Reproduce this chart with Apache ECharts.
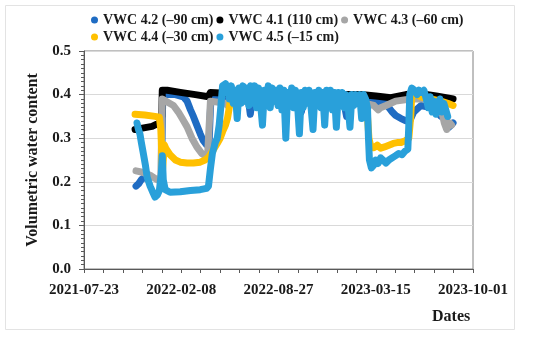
<!DOCTYPE html>
<html>
<head>
<meta charset="utf-8">
<script src="https://cdn.jsdelivr.net/npm/echarts@6/dist/echarts.min.js"></script>
<style>
html,body{margin:0;padding:0;background:#fff;}
#chart{width:550px;height:338px;}
</style>
</head>
<body>
<div id="chart"></div>
<script>
// ---------- data ----------
const xTickLabels = ['2021-07-23', '2022-02-08', '2022-08-27', '2023-03-15', '2023-10-01'];
const yTickLabels = ['0.0', '0.1', '0.2', '0.3', '0.4', '0.5'];
const seriesNames = ['VWC 4.2 (\u201390 cm)', 'VWC 4.1 (110 cm)', 'VWC 4.3 (\u201360 cm)', 'VWC 4.4 (\u201330 cm)', 'VWC 4.5 (\u201315 cm)'];
const seriesColors = ['#1F6CC3', '#000000', '#A6A6A6', '#FFC000', '#29A0DA'];

const vwc42 = [
  ['2021-11-07',0.19],['2021-11-12',0.195],['2021-11-18',0.205],['2021-11-24',0.21],['2021-11-25',null],
  ['2021-12-30',0.26],['2021-12-31',0.33],['2022-01-01',0.40],['2022-01-10',0.40],['2022-01-27',0.40],
  ['2022-02-12',0.395],['2022-02-20',0.385],['2022-02-27',0.365],['2022-03-05',0.35],['2022-03-12',0.33],
  ['2022-03-19',0.31],['2022-03-25',0.295],['2022-04-01',0.285],['2022-04-06',0.28],['2022-04-08',0.34],
  ['2022-04-10',0.39],['2022-05-10',0.395],['2022-06-10',0.39],['2022-06-26',0.39],['2022-06-30',0.355],
  ['2022-07-04',0.39],['2022-09-01',0.39],['2022-10-09',0.39],['2022-10-13',0.36],['2022-10-17',0.39],
  ['2022-12-20',0.39],['2023-01-08',0.385],['2023-01-14',0.35],['2023-01-20',0.385],['2023-03-15',0.385],
  ['2023-04-05',0.38],['2023-04-11',0.37],['2023-04-18',0.36],['2023-04-25',0.352],['2023-05-06',0.345],
  ['2023-05-16',0.34],['2023-05-24',0.34],['2023-06-01',0.36],['2023-06-16',0.375],['2023-07-06',0.37],
  ['2023-07-20',0.36],['2023-07-27',0.35],['2023-08-06',0.345],['2023-08-12',0.325],['2023-08-17',0.33],
  ['2023-08-21',0.335]
];
const vwc41 = [
  ['2021-11-05',0.32],['2021-11-20',0.323],['2021-12-10',0.327],['2021-12-25',0.335],['2021-12-30',0.35],
  ['2021-12-31',0.41],['2022-01-10',0.41],['2022-02-06',0.405],['2022-03-09',0.40],['2022-04-05',0.395],
  ['2022-04-09',0.405],['2022-06-30',0.40],['2022-09-21',0.40],['2022-12-12',0.40],['2023-02-12',0.40],
  ['2023-03-15',0.397],['2023-04-15',0.393],['2023-05-16',0.40],['2023-06-16',0.402],['2023-07-17',0.397],
  ['2023-08-21',0.39]
];
const vwc43 = [
  ['2021-11-07',0.225],['2021-11-20',0.222],['2021-12-06',0.215],['2021-12-20',0.205],['2021-12-28',0.21],
  ['2021-12-31',0.39],['2022-01-02',0.388],['2022-01-12',0.382],['2022-01-23',0.375],['2022-02-02',0.36],
  ['2022-02-10',0.345],['2022-02-20',0.326],['2022-03-02',0.30],['2022-03-12',0.28],['2022-03-22',0.265],
  ['2022-04-03',0.257],['2022-04-07',0.26],['2022-04-09',0.385],['2022-05-10',0.38],['2022-05-14',0.375],
  ['2022-06-10',0.385],['2022-09-01',0.385],['2022-12-01',0.385],['2023-01-10',0.39],['2023-02-12',0.385],
  ['2023-02-22',0.38],['2023-03-11',0.375],['2023-03-20',0.365],['2023-03-25',0.37],['2023-04-05',0.375],
  ['2023-04-25',0.385],['2023-05-26',0.39],['2023-06-26',0.39],['2023-07-17',0.385],['2023-07-27',0.37],
  ['2023-08-03',0.335],['2023-08-08',0.32],['2023-08-14',0.335],['2023-08-18',0.33]
];
const vwc44 = [
  ['2021-11-05',0.355],['2021-11-25',0.353],['2021-12-16',0.35],['2021-12-25',0.348],['2021-12-28',0.32],
  ['2021-12-30',0.26],['2021-12-31',0.22],['2022-01-02',0.25],['2022-01-04',0.285],['2022-01-08',0.275],
  ['2022-01-16',0.262],['2022-01-27',0.25],['2022-02-06',0.245],['2022-02-20',0.243],['2022-03-05',0.243],
  ['2022-03-19',0.245],['2022-03-29',0.25],['2022-04-05',0.256],['2022-04-13',0.27],['2022-04-23',0.288],
  ['2022-04-29',0.30],['2022-05-04',0.315],['2022-05-10',0.33],['2022-05-14',0.345],['2022-05-20',0.385],
  ['2022-05-25',0.40],['2022-06-15',0.395],['2022-08-15',0.395],['2022-11-01',0.39],['2023-01-20',0.39],
  ['2023-02-18',0.385],['2023-02-22',0.38],['2023-02-26',0.35],['2023-03-01',0.30],['2023-03-05',0.28],
  ['2023-03-11',0.278],['2023-03-18',0.284],['2023-03-25',0.277],['2023-04-02',0.28],['2023-04-11',0.284],
  ['2023-04-20',0.288],['2023-04-28',0.29],['2023-05-06',0.29],['2023-05-16',0.295],['2023-05-22',0.30],
  ['2023-05-26',0.35],['2023-05-28',0.40],['2023-06-06',0.40],['2023-06-16',0.395],['2023-07-06',0.39],
  ['2023-07-27',0.385],['2023-08-10',0.38],['2023-08-21',0.375]
];
const vwc45 = [
  ['2021-11-09',0.335],['2021-11-12',0.32],['2021-11-15',0.31],['2021-11-18',0.29],['2021-11-22',0.265],
  ['2021-11-26',0.24],['2021-11-30',0.21],['2021-12-06',0.19],['2021-12-12',0.175],['2021-12-16',0.165],
  ['2021-12-21',0.17],['2021-12-25',0.18],['2021-12-29',0.22],['2021-12-31',0.26],['2022-01-02',0.205],
  ['2022-01-06',0.182],['2022-01-16',0.176],['2022-02-06',0.177],['2022-02-27',0.18],['2022-03-19',0.182],
  ['2022-04-01',0.185],['2022-04-05',0.19],['2022-04-09',0.23],['2022-04-13',0.265],['2022-04-19',0.29],
  ['2022-04-23',0.30],['2022-04-27',0.33],['2022-05-01',0.38],['2022-05-04',0.42],['2022-05-10',0.425],
  ['2022-05-14',0.415],['2022-05-18',0.39],['2022-05-22',0.42],['2022-05-26',0.38],['2022-05-30',0.41],
  ['2022-06-03',0.345],['2022-06-07',0.415],['2022-06-11',0.38],['2022-06-15',0.42],['2022-06-19',0.385],
  ['2022-06-23',0.415],['2022-06-27',0.375],['2022-07-01',0.42],['2022-07-05',0.38],['2022-07-09',0.42],
  ['2022-07-13',0.37],['2022-07-17',0.415],['2022-07-21',0.38],['2022-07-25',0.33],['2022-07-29',0.41],
  ['2022-08-02',0.38],['2022-08-06',0.42],['2022-08-10',0.37],['2022-08-14',0.415],['2022-08-18',0.385],
  ['2022-08-22',0.41],['2022-08-26',0.375],['2022-08-30',0.415],['2022-09-03',0.365],['2022-09-07',0.41],
  ['2022-09-11',0.30],['2022-09-15',0.405],['2022-09-19',0.375],['2022-09-23',0.415],['2022-09-27',0.37],
  ['2022-10-01',0.41],['2022-10-05',0.38],['2022-10-09',0.31],['2022-10-13',0.405],['2022-10-17',0.37],
  ['2022-10-21',0.41],['2022-10-25',0.38],['2022-10-29',0.41],['2022-11-02',0.37],['2022-11-06',0.32],
  ['2022-11-10',0.405],['2022-11-14',0.375],['2022-11-18',0.41],['2022-11-22',0.37],['2022-11-26',0.405],
  ['2022-11-30',0.33],['2022-12-04',0.41],['2022-12-08',0.38],['2022-12-12',0.41],['2022-12-16',0.365],
  ['2022-12-20',0.405],['2022-12-24',0.325],['2022-12-28',0.405],['2023-01-01',0.375],['2023-01-05',0.405],
  ['2023-01-09',0.37],['2023-01-13',0.40],['2023-01-17',0.375],['2023-01-21',0.325],['2023-01-25',0.40],
  ['2023-01-29',0.375],['2023-02-02',0.40],['2023-02-06',0.38],['2023-02-10',0.40],['2023-02-14',0.345],
  ['2023-02-18',0.40],['2023-02-22',0.39],['2023-02-26',0.37],['2023-02-28',0.30],['2023-03-02',0.25],
  ['2023-03-06',0.232],['2023-03-11',0.238],['2023-03-15',0.25],['2023-03-20',0.242],['2023-03-25',0.255],
  ['2023-03-30',0.25],['2023-04-05',0.243],['2023-04-11',0.25],['2023-04-18',0.255],['2023-04-25',0.26],
  ['2023-05-01',0.265],['2023-05-08',0.262],['2023-05-14',0.27],['2023-05-20',0.275],['2023-05-22',0.33],
  ['2023-05-24',0.40],['2023-05-28',0.415],['2023-06-03',0.41],['2023-06-08',0.40],['2023-06-12',0.41],
  ['2023-06-17',0.405],['2023-06-22',0.41],['2023-06-27',0.39],['2023-07-01',0.37],['2023-07-05',0.395],
  ['2023-07-09',0.36],['2023-07-13',0.385],['2023-07-17',0.355],['2023-07-21',0.375],['2023-07-25',0.39],
  ['2023-07-29',0.36],['2023-08-02',0.38],['2023-08-06',0.365],['2023-08-10',0.35]
];

// ---------- chart ----------
const START = Date.parse(xTickLabels[0]);
const DAY = 86400000;
const toDay = d => Math.round((Date.parse(d) - START) / DAY);
const conv = arr => arr.map(p => [toDay(p[0]), p[1]]);
const allData = [vwc42, vwc41, vwc43, vwc44, vwc45];
const FONT = '"Liberation Serif", "Times New Roman", serif';
const xStep = toDay(xTickLabels[1]);

const chart = echarts.init(document.getElementById('chart'), null, {renderer: 'canvas'});
chart.setOption({
  animation: false,
  backgroundColor: '#ffffff',
  textStyle: {fontFamily: FONT},
  graphic: [
    {type: 'rect', shape: {x: 5.5, y: 5.5, width: 509, height: 324}, style: {fill: 'none', stroke: '#e3e3e3', lineWidth: 1}, silent: true},
    {type: 'text', left: 432, top: 309, style: {text: 'Dates', font: 'bold 16px ' + FONT, fill: '#1a1a1a'}}
  ],
  legend: {
    left: 91, top: 13, width: 390, padding: 0,
    itemGap: 3, itemWidth: 7, itemHeight: 7, icon: 'circle',
    textStyle: {fontFamily: FONT, fontWeight: 'bold', fontSize: 14, color: '#1a1a1a', width: 108, lineHeight: 14},
    data: seriesNames
  },
  grid: {left: 84, right: 77, top: 51, bottom: 69, show: true, borderColor: '#808080', borderWidth: 1},
  xAxis: {
    type: 'value', min: 0, max: toDay(xTickLabels[xTickLabels.length - 1]), interval: xStep,
    axisLine: {show: true, lineStyle: {color: '#595959', width: 1}},
    axisTick: {show: true, inside: false, length: 4, lineStyle: {color: '#595959'}},
    minorTick: {show: true, splitNumber: 5, length: 4, lineStyle: {color: '#595959'}},
    splitLine: {show: false},
    axisLabel: {
      fontFamily: FONT, fontWeight: 'bold', fontSize: 15, color: '#1a1a1a', margin: 14,
      formatter: v => xTickLabels[Math.round(v / xStep)]
    }
  },
  yAxis: {
    type: 'value', min: 0, max: 0.5, interval: 0.1,
    name: 'Volumetric water content', nameLocation: 'middle', nameGap: 43, nameRotate: 90,
    nameTextStyle: {fontFamily: FONT, fontWeight: 'bold', fontSize: 16, color: '#1a1a1a'},
    axisLine: {show: true, lineStyle: {color: '#595959', width: 1}},
    axisTick: {show: true, inside: false, length: 5, lineStyle: {color: '#595959'}},
    minorTick: {show: true, splitNumber: 10, length: 3, lineStyle: {color: '#595959'}},
    splitLine: {show: true, lineStyle: {color: '#d9d9d9', width: 1}},
    axisLabel: {
      fontFamily: FONT, fontWeight: 'bold', fontSize: 15, color: '#1a1a1a', margin: 13,
      formatter: v => yTickLabels[Math.round(v * 10)]
    }
  },
  series: allData.map((d, i) => ({
    name: seriesNames[i], type: 'line', data: conv(d), showSymbol: false, symbol: 'circle',
    connectNulls: false, color: seriesColors[i],
    lineStyle: {color: seriesColors[i], width: 7, cap: 'round', join: 'round'},
    itemStyle: {color: seriesColors[i]}, z: 2 + i
  }))
});
</script>
</body>
</html>
